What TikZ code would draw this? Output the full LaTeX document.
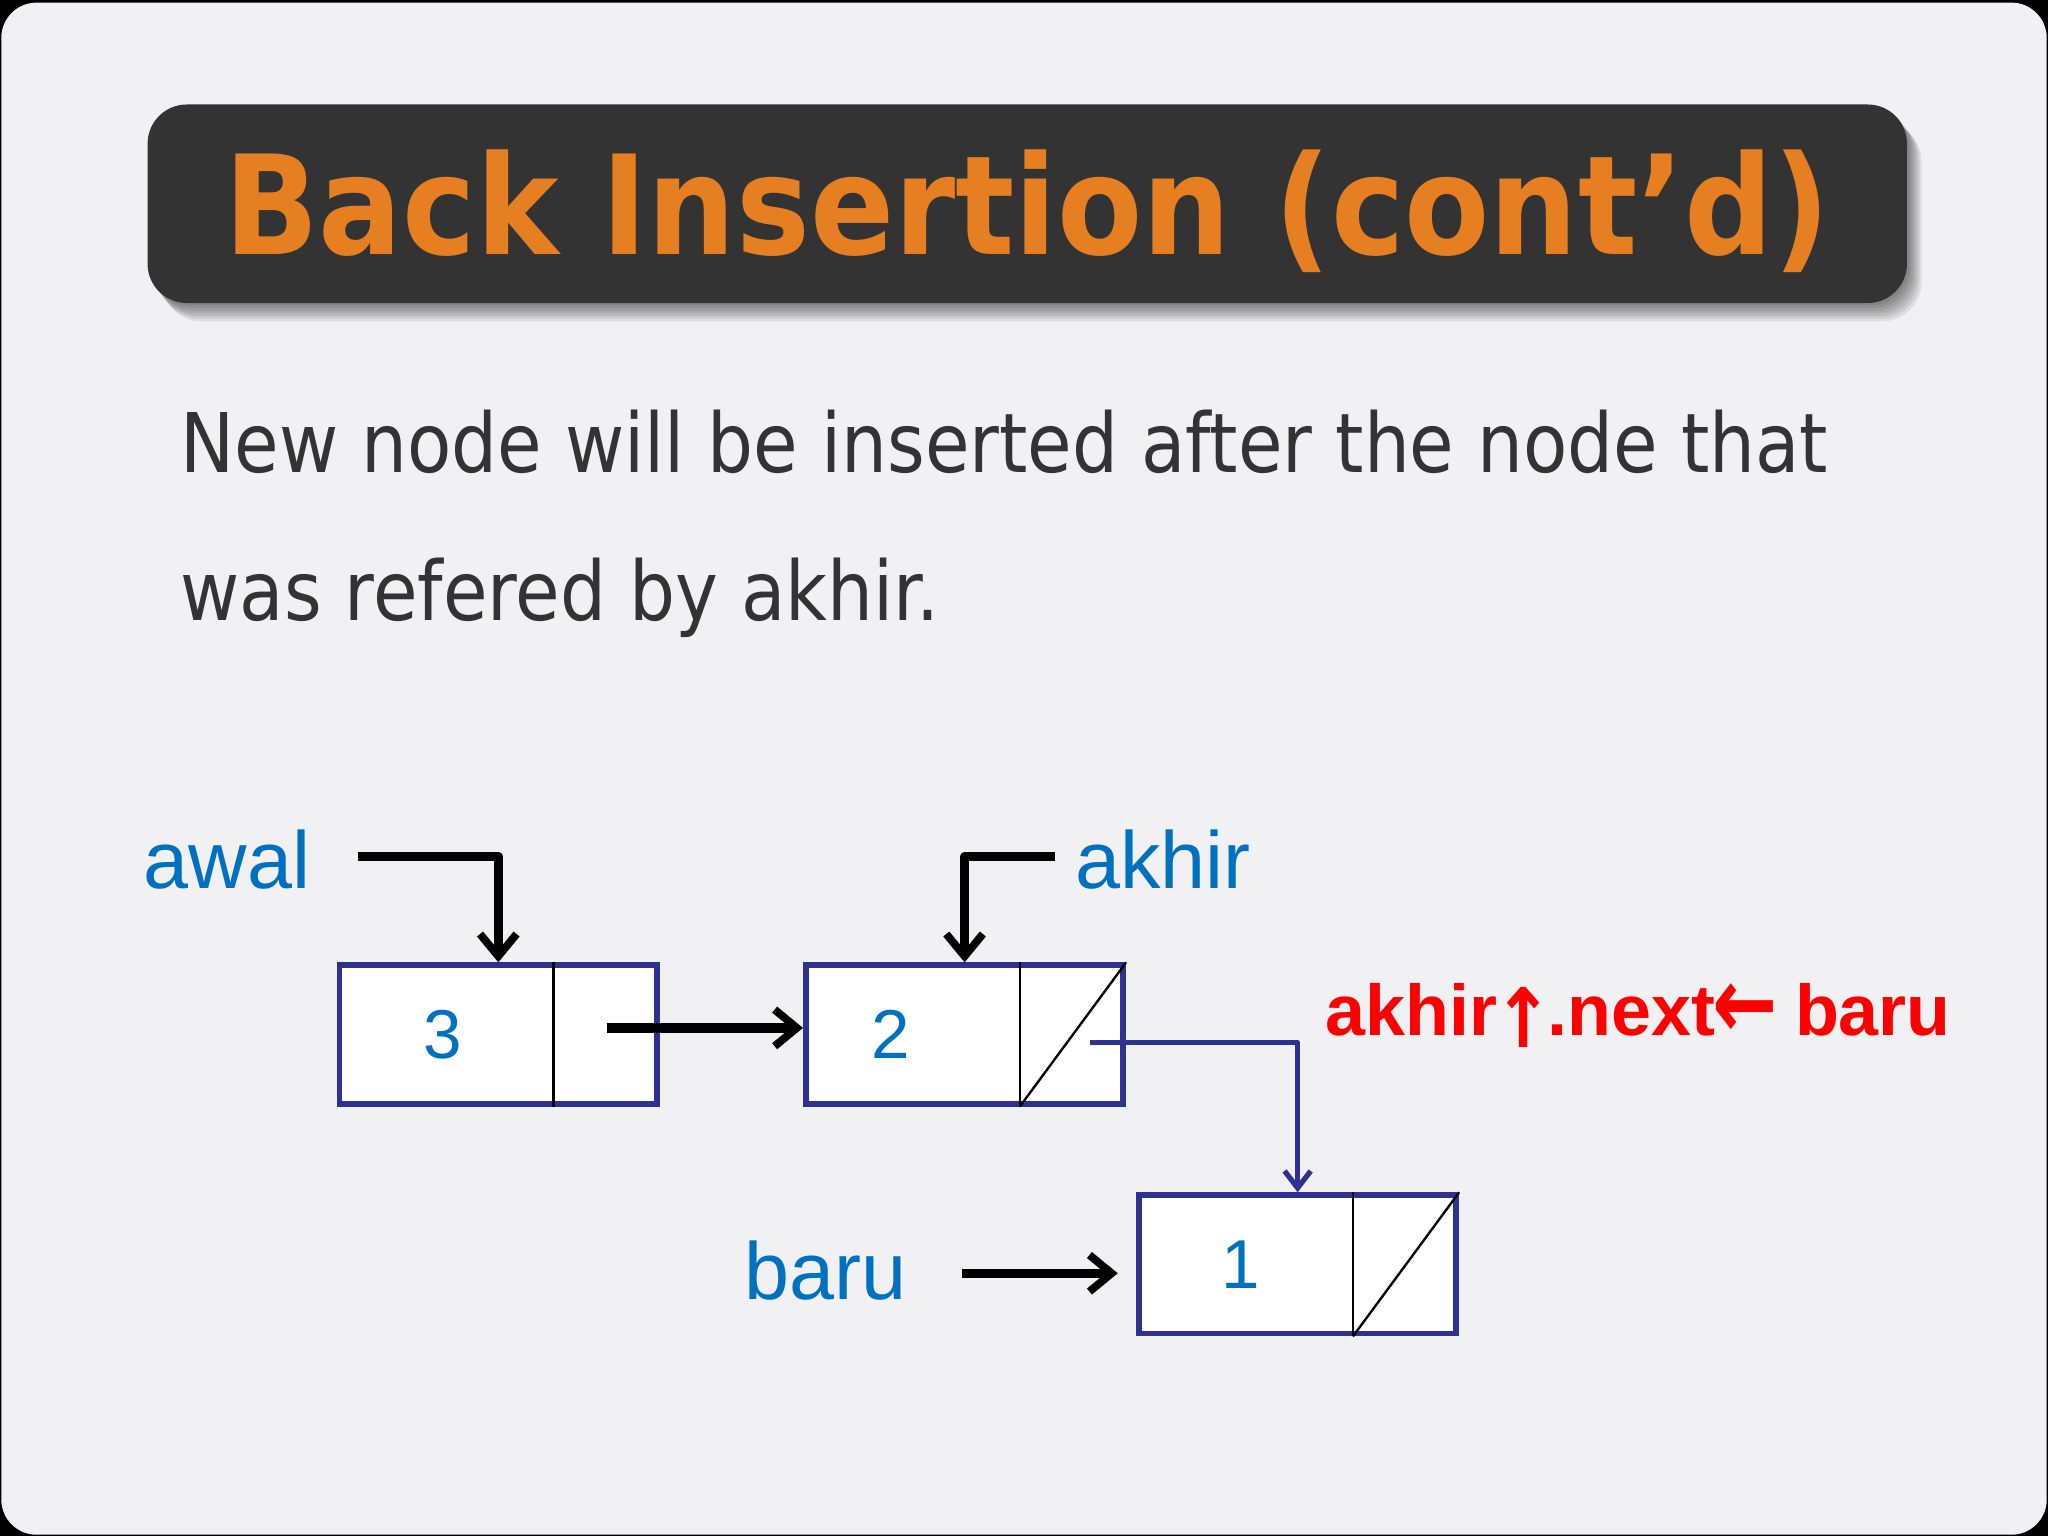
\documentclass[tikz,border=0pt]{standalone}
\usepackage{fontspec}
\setmainfont{DejaVu Sans}
\newfontfamily\titlefont{DejaVu Sans}[FakeStretch=0.9]
\newfontfamily\bodyfont{DejaVu Sans}[FakeStretch=0.88]
\newfontfamily\labelfont{Liberation Sans}
\usetikzlibrary{arrows.meta,positioning}

\definecolor{slidebg}{HTML}{F1F0F2}
\definecolor{titlebg}{HTML}{333333}
\definecolor{titleorange}{HTML}{E67E22}
\definecolor{bodygray}{HTML}{333333}
\definecolor{ptrblue}{HTML}{0070C0}
\definecolor{boxnavy}{HTML}{2E3192}
\definecolor{opred}{HTML}{FF0000}

% big arrows inside the red text
\newcommand{\uparr}{\kern-3pt\raisebox{-9pt}{\resizebox{46pt}{46pt}{\fontspec{DejaVu Sans}↑}}\kern-5pt}
\newcommand{\leftarr}{\kern-2pt\raisebox{-2pt}{\resizebox{50pt}{42pt}{\fontspec{DejaVu Sans}←}}\kern-2pt}

\tikzset{
  titlebox/.style={rectangle, rounded corners=30pt, fill=titlebg,
    minimum width=1347pt, minimum height=152pt, inner sep=0pt,
    text=titleorange, font=\titlefont\bfseries\fontsize{105.6}{110}\selectfont,
    text height=77pt, text depth=0pt},
  bodytext/.style={inner sep=0pt, anchor=base west, text=bodygray,
    font=\bodyfont\fontsize{63}{70}\selectfont},
  ptrtext/.style={inner sep=0pt, anchor=base west, text=ptrblue,
    font=\labelfont\fontsize{62}{70}\selectfont},
  datatext/.style={inner sep=0pt, text=ptrblue,
    font=\labelfont\fontsize{53}{60}\selectfont},
  optext/.style={inner sep=0pt, anchor=base west, text=opred,
    font=\labelfont\bfseries\fontsize{55}{60}\selectfont},
  listnode/.style={rectangle, draw=boxnavy, line width=4.4pt, fill=white,
    minimum width=243pt, minimum height=106pt, inner sep=0pt},
  divider/.style={black, line width=1.8pt},
  ptr/.style={black, line width=7pt, line join=round,
    -{Straight Barb[length=17pt, width=28pt, line width=6pt]}},
  nextptr/.style={boxnavy, line width=4pt, line join=round,
    -{Straight Barb[length=13pt, width=20pt, line width=4pt]}},
}

\begin{document}
\begin{tikzpicture}[x=1pt, y=-1pt]
  % slide background
  \fill[black] (0,0) rectangle (1568,1176);
  \fill[slidebg, rounded corners=27pt] (1,2) rectangle (1567,1175);
  \useasboundingbox (0,0) rectangle (1568,1176);

  % title with soft shadow
  \foreach \s in {2,4,...,14}
    \fill[black, opacity=0.08, rounded corners=30pt]
      (113+\s*0.8,80+\s) rectangle (1460+\s*0.8,232+\s);
  \node[titlebox] (title) at (786.5,156) {Back Insertion (cont’d)};

  % explanation
  \node[bodytext] (line1) at (138,362) {New node will be inserted after the node that};
  \node[bodytext] (line2) at ([yshift=-113pt]line1.base west) {was refered by akhir.};

  % list nodes
  \node[listnode] (n3) at (381.5,792) {};
  \node[listnode] (n2) at (738.5,792) {};
  \node[listnode] (n1) at (993.5,968) {};
  \foreach \n in {n3,n2,n1}
    \draw[divider] ([xshift=166pt]\n.south west) -- ([xshift=166pt]\n.north west);
  \foreach \n in {n2,n1}
    \draw[divider] ([xshift=166pt]\n.south west) -- (\n.north east);

  \node[datatext] (d3) at ([xshift=81pt]n3.west) {3};
  \node[datatext] (d2) at ([xshift=67pt]n2.west) {2};
  \node[datatext] (d1) at ([xshift=80pt]n1.west) {1};

  % pointers
  \node[ptrtext] (awal) at (110,680) {awal};
  \node[ptrtext] (akhir) at (823,680) {akhir};
  \node[ptrtext] (baru) at (570,995) {baru};
  \node[optext] (op) at (1015,793) {akhir\uparr.next\leftarr\ baru};

  \draw[ptr] ([xshift=36pt,yshift=2pt]awal.east) -| (n3.north);
  \draw[ptr] ([xshift=-15pt,yshift=2pt]akhir.west) -| (n2.north);
  \draw[ptr] ([xshift=83pt,yshift=5pt]n3.center) -- ([yshift=5pt]n2.west);
  \draw[ptr, shorten >=14pt] ([xshift=42pt,yshift=-2pt]baru.east) -- ([yshift=-2pt]baru.east -| n1.west);
  \draw[nextptr] ([xshift=96pt,yshift=-6pt]n2.center) -| (n1.north);
\end{tikzpicture}
\end{document}
